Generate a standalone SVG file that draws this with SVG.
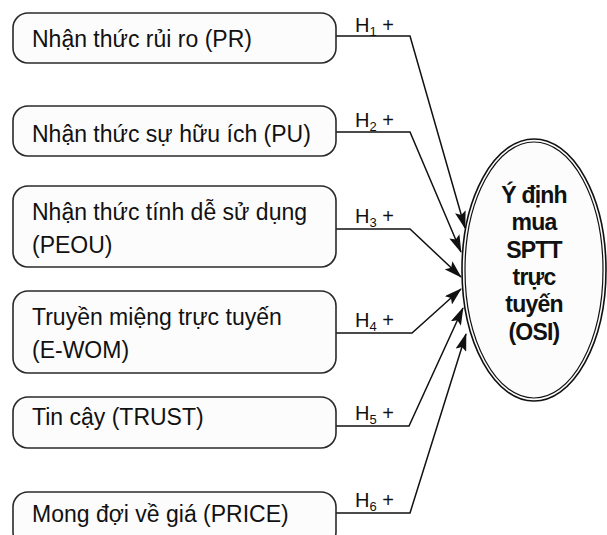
<svg xmlns="http://www.w3.org/2000/svg" width="607" height="535" viewBox="0 0 607 535">
<defs>
<marker id="ah" markerUnits="userSpaceOnUse" markerWidth="18" markerHeight="11" refX="17" refY="5.5" orient="auto">
<path d="M0,0 L18,5.5 L0,11 L3.5,5.5 Z" fill="#111"/>
</marker>
<style>
.box{fill:#fcfcfc;stroke:#2a2a2a;stroke-width:1.6}
.t{font-family:"Liberation Sans",Arial,sans-serif;font-size:23px;fill:#111}
.h{font-family:"Liberation Sans",Arial,sans-serif;font-size:20px;fill:#111}
.sub{font-size:13px}
.c{fill:none;stroke:#111;stroke-width:1.5;marker-end:url(#ah)}
.ot{font-family:"Liberation Sans",Arial,sans-serif;font-size:23px;font-weight:bold;fill:#111;text-anchor:middle;letter-spacing:-0.8px}
</style>
</defs>
<rect width="607" height="535" fill="#fff"/>
<g id="connectors">
<polyline class="c" points="336,36 410,36 465,228"/>
<polyline class="c" points="336,132 410,132 461,252"/>
<polyline class="c" points="336,229 410,229 461,277"/>
<polyline class="c" points="336,333 412,333 461,289"/>
<polyline class="c" points="336,426 409,426 463,308"/>
<polyline class="c" points="336,513 410,513 466,334"/>
<text class="h" x="355" y="32">H<tspan class="sub" dy="4">1</tspan><tspan dy="-4"> +</tspan></text>
<text class="h" x="355" y="127">H<tspan class="sub" dy="4">2</tspan><tspan dy="-4"> +</tspan></text>
<text class="h" x="355" y="223">H<tspan class="sub" dy="4">3</tspan><tspan dy="-4"> +</tspan></text>
<text class="h" x="355" y="327">H<tspan class="sub" dy="4">4</tspan><tspan dy="-4"> +</tspan></text>
<text class="h" x="355" y="420">H<tspan class="sub" dy="4">5</tspan><tspan dy="-4"> +</tspan></text>
<text class="h" x="355" y="507">H<tspan class="sub" dy="4">6</tspan><tspan dy="-4"> +</tspan></text>
</g>
<g id="PR">
<rect class="box" x="13" y="13" width="323" height="50" rx="15"/>
<text class="t" x="32" y="47">Nhận thức rủi ro (PR)</text>
</g>
<g id="PU">
<rect class="box" x="13" y="106" width="323" height="50" rx="15"/>
<text class="t" x="32" y="142">Nhận thức sự hữu ích (PU)</text>
</g>
<g id="PEOU">
<rect class="box" x="13" y="186" width="323" height="81" rx="15"/>
<text class="t" x="32" y="220">Nhận thức tính dễ sử dụng</text>
<text class="t" x="32" y="253">(PEOU)</text>
</g>
<g id="EWOM">
<rect class="box" x="13" y="291" width="323" height="82" rx="15"/>
<text class="t" x="32" y="325">Truyền miệng trực tuyến</text>
<text class="t" x="32" y="358">(E-WOM)</text>
</g>
<g id="TRUST">
<rect class="box" x="13" y="397" width="323" height="51" rx="15"/>
<text class="t" x="32" y="425">Tin cậy (TRUST)</text>
</g>
<g id="PRICE">
<rect class="box" x="13" y="492" width="323" height="55" rx="15"/>
<text class="t" x="32" y="522">Mong đợi về giá (PRICE)</text>
</g>
<g id="OSI">
<ellipse cx="534" cy="270" rx="72" ry="131" fill="#fcfcfc" stroke="#111" stroke-width="1.6"/>
<ellipse cx="534" cy="270" rx="69" ry="128" fill="none" stroke="#111" stroke-width="1.2"/>
<text class="ot" x="534" y="203">Ý định</text>
<text class="ot" x="534" y="230">mua</text>
<text class="ot" x="534" y="258">SPTT</text>
<text class="ot" x="534" y="285">trực</text>
<text class="ot" x="534" y="312">tuyến</text>
<text class="ot" x="534" y="340">(OSI)</text>
</g>
</svg>
